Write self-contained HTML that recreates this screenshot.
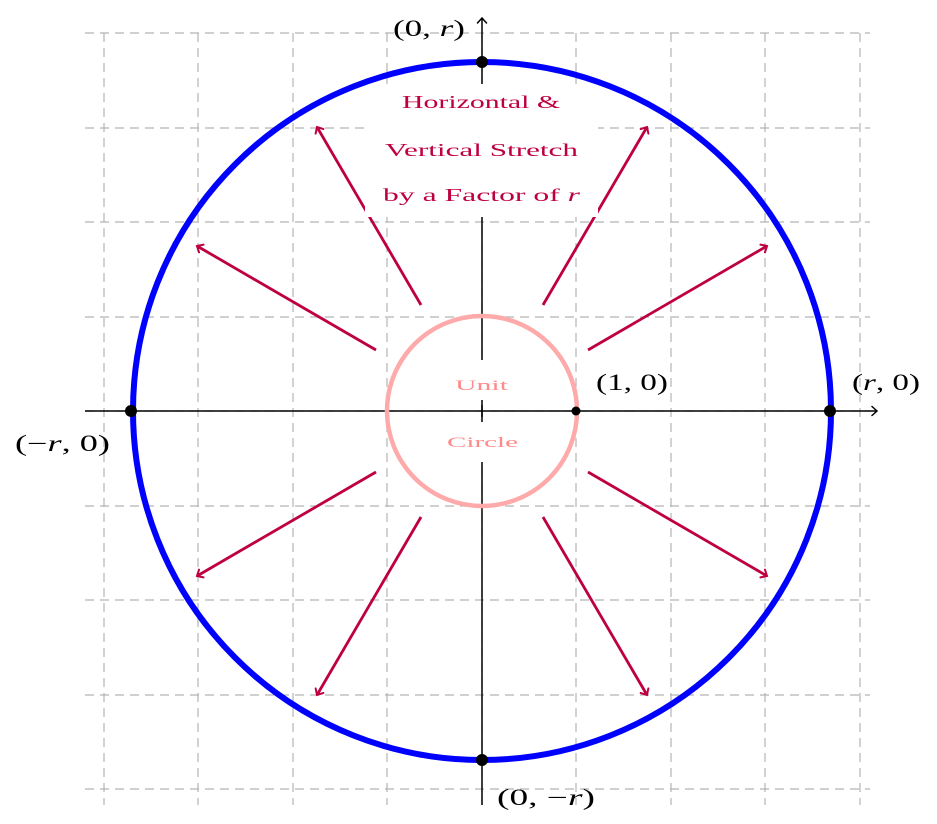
<!DOCTYPE html>
<html><head><meta charset="utf-8"><style>
html,body{margin:0;padding:0;background:#fff}
svg{display:block}
text{font-family:"Liberation Serif",serif}
</style></head><body>
<svg width="937" height="824" viewBox="0 0 937 824" xmlns="http://www.w3.org/2000/svg">
<defs>
<marker id="ar" viewBox="-6 -6 12 12" markerWidth="12" markerHeight="12" refX="0" refY="0" orient="auto" markerUnits="userSpaceOnUse">
<polyline points="-5,-4.5 0,0 -5,4.5" fill="none" stroke="#bf0040" stroke-width="2" stroke-linecap="round"/>
</marker>
<marker id="ak" viewBox="-6 -6 12 12" markerWidth="12" markerHeight="12" refX="0" refY="0" orient="auto" markerUnits="userSpaceOnUse">
<polyline points="-5,-4.5 0,0 -5,4.5" fill="none" stroke="#000" stroke-width="1.5" stroke-linecap="round"/>
</marker>
</defs>
<g stroke="#b3b3b3" stroke-width="1.2" stroke-dasharray="9,6" fill="none">
<path d="M104 33V805M198 33V805M293 33V805M387 33V805M482 33V805M576 33V805M671 33V805M765 33V805M860 33V805"/>
<path d="M85 33H870M85 128H870M85 222H870M85 317H870M85 411H870M85 506H870M85 600H870M85 695H870M85 789H870"/>
</g>
<line x1="85" y1="411" x2="877" y2="411" stroke="#000" stroke-width="1.5" marker-end="url(#ak)"/>
<line x1="482" y1="805" x2="482" y2="18" stroke="#000" stroke-width="1.5" marker-end="url(#ak)"/>
<g stroke="#bf0040" stroke-width="2.8" marker-end="url(#ar)">
<line x1="588" y1="350" x2="767" y2="246"/>
<line x1="543" y1="305" x2="647" y2="127"/>
<line x1="421" y1="305" x2="317" y2="127"/>
<line x1="376" y1="350" x2="197" y2="246"/>
<line x1="376" y1="472" x2="197" y2="576"/>
<line x1="421" y1="517" x2="317" y2="695"/>
<line x1="543" y1="517" x2="647" y2="695"/>
<line x1="588" y1="472" x2="767" y2="576"/>
</g>
<rect x="365" y="84" width="233" height="133" fill="#fff"/>
<rect x="448" y="360" width="68" height="40" fill="#fff"/>
<rect x="448" y="422" width="68" height="40" fill="#fff"/>
<line x1="482" y1="405" x2="482" y2="417" stroke="#000" stroke-width="1.5"/>
<circle cx="482" cy="411" r="95" fill="none" stroke="#ffaaaa" stroke-width="4.5"/>
<circle cx="482" cy="411" r="349" fill="none" stroke="#0000ff" stroke-width="6"/>
<g fill="#000">
<circle cx="482" cy="62" r="6"/><circle cx="482" cy="760" r="6"/>
<circle cx="131" cy="411" r="6"/><circle cx="830" cy="411" r="6"/>
<circle cx="576" cy="411" r="4.5"/>
</g>
<g fill="#bf0040" font-size="18">
<text x="402" y="108" textLength="158" lengthAdjust="spacingAndGlyphs">Horizontal &amp;</text>
<text x="385" y="156" textLength="193" lengthAdjust="spacingAndGlyphs">Vertical Stretch</text>
<text x="383" y="201" textLength="197" lengthAdjust="spacingAndGlyphs">by a Factor of <tspan font-style="italic">r</tspan></text>
</g>
<g fill="#ff8a8a" font-size="15">
<text x="455" y="390" textLength="53" lengthAdjust="spacingAndGlyphs">Unit</text>
<text x="447" y="447" textLength="71" lengthAdjust="spacingAndGlyphs">Circle</text>
</g>
<g fill="#000" font-size="23">
<text x="393" y="36" textLength="72" lengthAdjust="spacingAndGlyphs">(0, <tspan font-style="italic">r</tspan>)</text>
<text x="852" y="390" textLength="68" lengthAdjust="spacingAndGlyphs">(<tspan font-style="italic">r</tspan>, 0)</text>
<text x="15" y="451" textLength="95" lengthAdjust="spacingAndGlyphs">(−<tspan font-style="italic">r</tspan>, 0)</text>
<text x="596" y="390" textLength="72" lengthAdjust="spacingAndGlyphs">(1, 0)</text>
<text x="497" y="805" textLength="98" lengthAdjust="spacingAndGlyphs">(0, −<tspan font-style="italic">r</tspan>)</text>
</g>
</svg>
</body></html>
